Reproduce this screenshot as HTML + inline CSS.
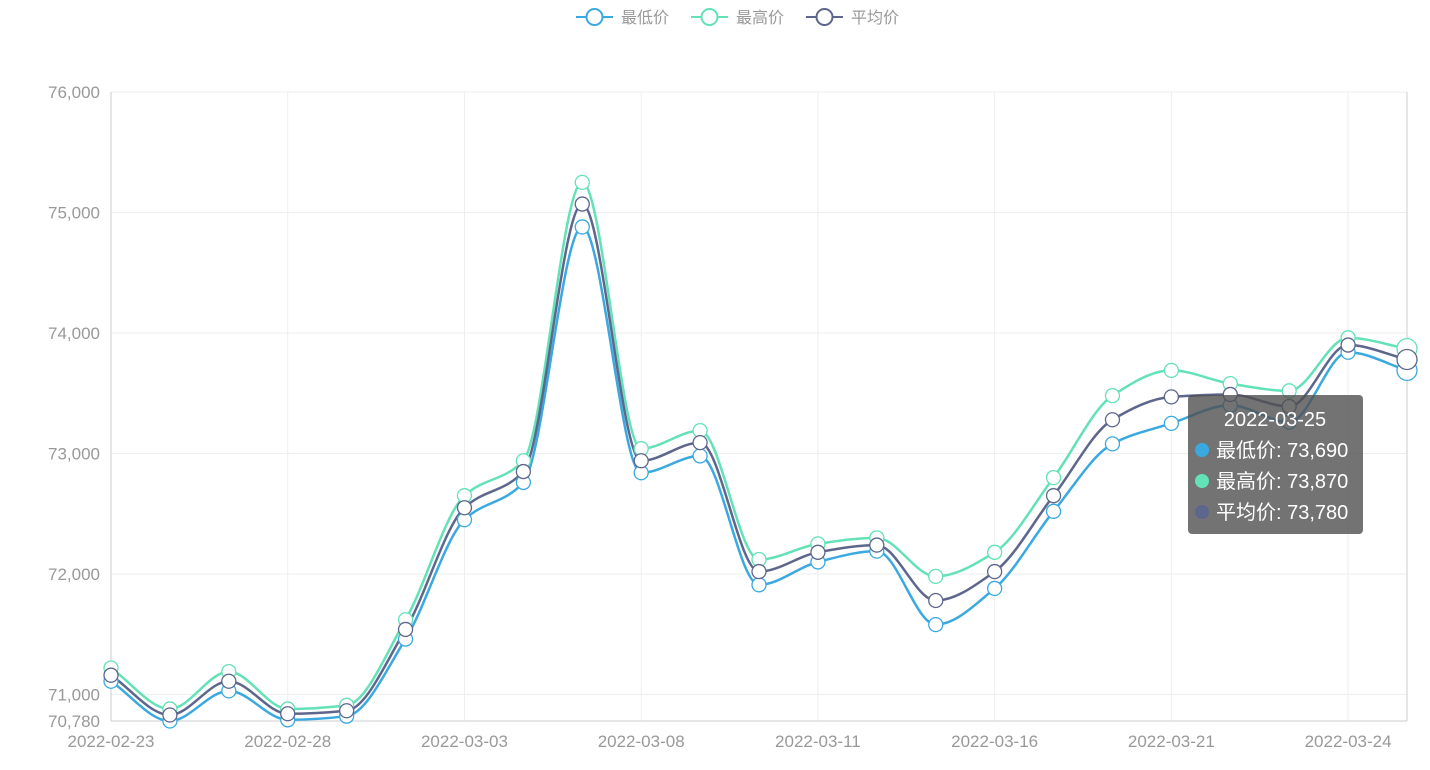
<!DOCTYPE html>
<html><head><meta charset="utf-8"><style>
body{margin:0;background:#fff;width:1430px;height:765px;overflow:hidden;font-family:"Liberation Sans","Noto Sans CJK SC",sans-serif}
svg text{font-family:"Liberation Sans","Noto Sans CJK SC",sans-serif}
</style></head><body>
<svg id="c" width="1430" height="765"></svg>
<script>
const categories=["2022-02-23","2022-02-24","2022-02-25","2022-02-28","2022-03-01","2022-03-02","2022-03-03","2022-03-04","2022-03-07","2022-03-08","2022-03-09","2022-03-10","2022-03-11","2022-03-14","2022-03-15","2022-03-16","2022-03-17","2022-03-18","2022-03-21","2022-03-22","2022-03-23","2022-03-24","2022-03-25"];
const lowValues=[71110,70780,71030,70790,70820,71460,72450,72760,74880,72840,72980,71910,72100,72190,71580,71880,72520,73080,73250,73400,73260,73840,73690];
const highValues=[71220,70880,71190,70880,70910,71620,72650,72940,75250,73040,73190,72120,72250,72300,71980,72180,72800,73480,73690,73580,73520,73960,73870];
const avgValues=[71160,70830,71110,70840,70865,71540,72550,72850,75070,72940,73090,72020,72180,72240,71780,72020,72650,73280,73470,73490,73390,73900,73780];
const yTicks=[71000,72000,73000,74000,75000,76000];
const yMin=70780,yMax=76000;
const X0=111,X1=1407,Y0=721,Y1=92;
const NS="http://www.w3.org/2000/svg";
const svg=document.getElementById('c');
function el(t,a,p){const e=document.createElementNS(NS,t);for(const k in a)e.setAttribute(k,a[k]);(p||svg).appendChild(e);return e;}
const xs=i=>X0+i*(X1-X0)/(categories.length-1);
const ys=v=>Y0-(v-yMin)/(yMax-yMin)*(Y0-Y1);
const g=el('g',{});


yTicks.forEach(v=>{el('line',{x1:X0,x2:X1,y1:ys(v),y2:ys(v),stroke:'#eee'},g);});
categories.forEach((c,i)=>{if(i%3===0||i===categories.length-1)el('line',{x1:xs(i),x2:xs(i),y1:Y1,y2:Y0,stroke:'#eee'},g);});
el('line',{x1:X1,x2:X1,y1:Y1,y2:Y0,stroke:'#ccc'});
const ya=el('line',{x1:X0,x2:X0,y1:Y1,y2:Y0,stroke:'#ccc'});


const xa=el('line',{x1:X0,x2:X1,y1:Y0,y2:Y0,stroke:'#ccc'});


yTicks.concat([yMin]).forEach(v=>{const t=el('text',{x:100,y:ys(v)+6,'text-anchor':'end','font-size':17,fill:'#999'});t.textContent=v.toLocaleString('en-US');

});
categories.forEach((c,i)=>{if(i%3!==0)return;const t=el('text',{x:xs(i),y:747,'text-anchor':'middle','font-size':17,fill:'#999'});t.textContent=c;

});
function path(vals){const p=vals.map((v,i)=>[xs(i),ys(v)]);const n=p.length;
const dx=p[1][0]-p[0][0];const sl=[];for(let i=0;i<n-1;i++)sl.push((p[i+1][1]-p[i][1])/dx);
const m=[];for(let i=0;i<n;i++){if(i===0)m.push(sl[0]);else if(i===n-1)m.push(sl[n-2]);else{const a=sl[i-1],b=sl[i];m.push(a*b<=0?0:(2*a*b/(a+b)));}}
let d='M'+p[0];for(let i=0;i<n-1;i++){const h=dx/3;d+='C'+[p[i][0]+h,p[i][1]+m[i]*h]+' '+[p[i+1][0]-h,p[i+1][1]-m[i+1]*h]+' '+p[i+1];}return d;}
const series=[["low",lowValues,'#3aa9e0'],["high",highValues,'#62e2b6'],["avg",avgValues,'#5d668c']];
series.forEach(([n,vals,col])=>{const p=el('path',{d:path(vals),fill:'none',stroke:col,'stroke-width':2.5});

});
series.forEach(([n,vals,col])=>{vals.forEach((v,i)=>{const last=i===vals.length-1;const c=el('circle',{cx:xs(i),cy:ys(v),r:last?10:7,fill:'#fff',stroke:col,'stroke-width':1.3});

});});
const legend=[["最低价",'#3aa9e0',576],["最高价",'#62e2b6',691],["平均价",'#5d668c',806]];
legend.forEach(([t,col,x])=>{const lg=el('g',{});


el('line',{x1:x,x2:x+37,y1:17,y2:17,stroke:col,'stroke-width':2},lg);
el('circle',{cx:x+18.5,cy:17,r:8,fill:'#fff',stroke:col,'stroke-width':2},lg);
const tx=el('text',{x:x+45,y:23,'font-size':16,fill:'#999'},lg);tx.textContent=t;});
const tg=el('g',{});


el('rect',{x:1188,y:395,width:175,height:139,rx:4,fill:'rgba(80,80,80,0.8)'},tg);
const t0=el('text',{x:1275,y:426,'text-anchor':'middle','font-size':20,fill:'#fff'},tg);t0.textContent=categories[22];
series.forEach(([n,vals,col],k)=>{const y=450+k*31;el('circle',{cx:1202,cy:y,r:7,fill:col},tg);
const t=el('text',{x:1216,y:y+7,'font-size':20,fill:'#fff'},tg);t.textContent=legend[k][0]+': '+vals[22].toLocaleString('en-US');});
</script>
</body></html>
